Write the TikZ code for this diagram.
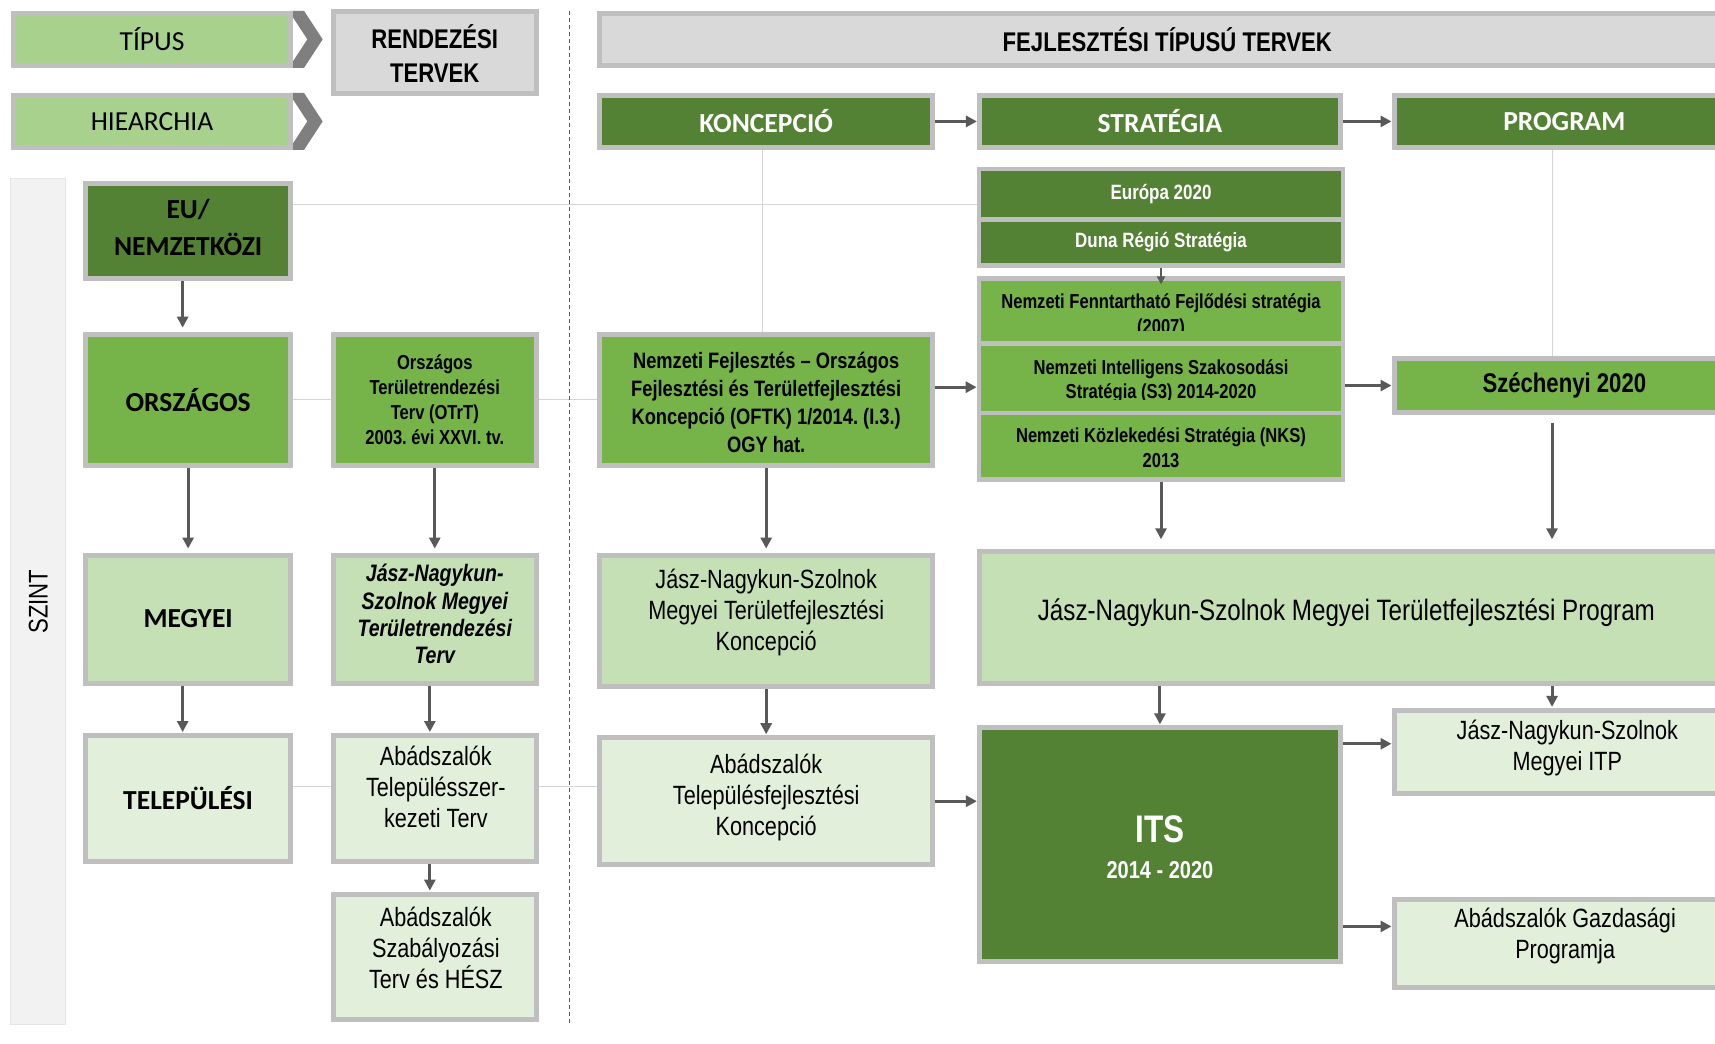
\documentclass[tikz,border=0pt]{standalone}
\usepackage{fontspec}
\setmainfont{Liberation Sans}
\newfontfamily\narrowfont[FakeStretch=0.82]{Liberation Sans}
\newfontfamily\calfont{Carlito}
\usetikzlibrary{arrows.meta}

\definecolor{darkgrn}{RGB}{84,130,53}
\definecolor{midgrn}{RGB}{118,179,72}
\definecolor{lightgrn}{RGB}{197,224,180}
\definecolor{palegrn}{RGB}{226,239,218}
\definecolor{hdrgrn}{RGB}{169,209,142}
\definecolor{rimgray}{RGB}{191,191,191}
\definecolor{hdrgray}{RGB}{217,217,217}
\definecolor{chevgray}{RGB}{127,127,127}
\definecolor{arrgray}{RGB}{89,89,89}
\definecolor{colgray}{RGB}{242,242,242}
\definecolor{gridgray}{RGB}{212,212,212}

\tikzset{
	area/.style args={#1/#2/#3/#4}{at={({(#1+#3)/2},{(#2+#4)/2})}, minimum width={(#3-#1)*1.0938pt}, minimum height={(#4-#2)*1.0938pt}},
	plan/.style={draw=rimgray, line width=5pt, inner sep=0pt},
	stack/.style={plan, line width=4.5pt},
	arr/.style={draw=arrgray, line width=3pt, -{Triangle[length=11pt,width=11pt]}, shorten >=#1},
	arr/.default=4pt,
	arrsmall/.style={draw=arrgray, line width=2pt, -{Triangle[length=8pt,width=8pt]}, shorten >=-8pt},
	guide/.style={draw=gridgray, line width=1pt},
	divider/.style={draw=arrgray, line width=1pt, dash pattern=on 4pt off 3pt},
	calreg/.style={font=\calfont\fontsize{27.5}{33}\selectfont},
	calbold/.style={font=\calfont\bfseries\fontsize{27.5}{37}\selectfont},
	hdrfont/.style={font=\narrowfont\bfseries\fontsize{27}{34}\selectfont, align=center},
	stackhead/.style={font=\narrowfont\bfseries\fontsize{20.7}{24}\selectfont},
	stackfont/.style={font=\narrowfont\bfseries\fontsize{20.2}{24.5}\selectfont, align=center},
	otrtfont/.style={font=\narrowfont\bfseries\fontsize{20.2}{25}\selectfont, align=center},
	oftkfont/.style={font=\narrowfont\bfseries\fontsize{22.3}{28}\selectfont, align=center},
	szfont/.style={font=\narrowfont\bfseries\fontsize{27}{30}\selectfont},
	termfont/.style={font=\narrowfont\bfseries\itshape\fontsize{23.8}{27.3}\selectfont, align=center},
	plainfont/.style={font=\narrowfont\fontsize{26.4}{31}\selectfont, align=center},
	progfont/.style={font=\narrowfont\fontsize{29.5}{34}\selectfont}}
\tikzset{every picture/.style={line width=0.75pt}}

\begin{document}
\frenchspacing
\begin{tikzpicture}[x=1.0938pt,y=1.0938pt,yscale=-1,xscale=1]
	\useasboundingbox (0,0) rectangle (1568,954.5);

	% column and row guides
	\coordinate (ca) at (167,0);
	\coordinate (cb) at (393,0);
	\coordinate (cc) at (697,0);
	\coordinate (cp) at (1419,0);
	\coordinate (ra) at (0,187);
	\coordinate (rb) at (0,354);
	\coordinate (rc) at (0,680);
	\coordinate (rd) at (0,719);
	\coordinate (re) at (0,847);

	%Shape: Rectangle [szint]
	\node[draw=rimgray!40, fill=colgray, line width=1pt, inner sep=0pt, area=10/163/60/937] (szint) {};
	% Text Node
	\node[rotate=90, font=\narrowfont\fontsize{27}{30}\selectfont] (szintlbl) at (szint) {SZINT};

	%Shape: Chevron
	\fill[chevgray] (264,10) -- (278,10) -- (295,36) -- (278,62) -- (264,62) -- (281,36) -- cycle;
	\fill[chevgray] (264,85) -- (278,85) -- (295,111) -- (278,137) -- (264,137) -- (281,111) -- cycle;

	%Shape: Rectangle [header row]
	\node[plan, fill=hdrgrn, calreg, area=12.5/12.5/265.5/59.5] (tipus) {TÍPUS};
	\node[plan, fill=hdrgrn, calreg, area=12.5/87.5/265.5/134.5] (hiearchia) {HIEARCHIA};
	\node[plan, fill=hdrgray, area=304.5/10.5/490.5/85.5] (rendezesi) {};
	\node[plan, fill=hdrgray, hdrfont, area=548.5/12.5/1586/59.5] (fejlesztesi) {FEJLESZTÉSI TÍPUSÚ TERVEK};
	\node[plan, fill=darkgrn, calbold, text=white, area=548.5/87.5/852.5/134.5] (koncepcio) {KONCEPCIÓ};
	\node[plan, fill=darkgrn, calbold, text=white, area=895.5/87.5/1225.5/134.5] (strategia) {STRATÉGIA};
	\node[plan, fill=darkgrn, calbold, text=white, area=1274.5/87.5/1586/134.5] (program) {PROGRAM};

	%Shape: Rectangle [EU row]
	\node[plan, fill=darkgrn, area=78.5/167.5/265.5/254.5] (eu) {};
	\node[stack, fill=darkgrn, text=white, stackhead, area=895/154.5/1228/200.5] (europa) {Európa 2020};
	\node[stack, fill=darkgrn, text=white, stackhead, area=895/200.5/1228/242.75] (duna) {Duna Régió Stratégia};

	%Shape: Rectangle [national row]
	\node[plan, fill=midgrn, calbold, area=78.5/305.5/265.5/425.5] (orszagos) {ORSZÁGOS};
	\node[plan, fill=midgrn, area=304.5/305.5/490.5/425.5] (otrt) {};
	\node[plan, fill=midgrn, area=548.5/305.5/852.5/425.5] (oftk) {};
	\node[stack, fill=midgrn, area=895/254.75/1228/314] (nffs) {};
	\node[stack, fill=midgrn, area=895/314/1228/377.5] (nis) {};
	\node[stack, fill=midgrn, area=895/377.5/1228/438.5] (nks) {};
	\node[plan, fill=midgrn, szfont, area=1274.5/327.5/1586/377.5] (szechenyi) {Széchenyi 2020};

	%Shape: Rectangle [county row]
	\node[plan, fill=lightgrn, calbold, area=78.5/507.5/265.5/624.5] (megyei) {MEGYEI};
	\node[plan, fill=lightgrn, area=304.5/507.5/490.5/624.5] (jnszterv) {};
	\node[plan, fill=lightgrn, area=548.5/507.5/852.5/627.5] (mtk) {};
	\node[plan, fill=lightgrn, area=895.5/504.5/1586/624.5] (mtp) {};

	%Shape: Rectangle [settlement row]
	\node[plan, fill=palegrn, calbold, area=78.5/672.5/265.5/787.5] (telepulesi) {TELEPÜLÉSI};
	\node[plan, fill=palegrn, area=304.5/672.5/490.5/787.5] (tszt) {};
	\node[plan, fill=palegrn, area=548.5/674.5/852.5/790.5] (atk) {};
	\node[plan, fill=darkgrn, area=895.5/665.5/1225.5/879.5] (its) {};
	\node[plan, fill=palegrn, area=1274.5/649.5/1586/725.5] (itp) {};
	\node[plan, fill=palegrn, area=1274.5/822.5/1586/902.5] (gp) {};
	\node[plan, fill=palegrn, area=304.5/817.5/490.5/932.5] (szt) {};

	% Text Node
	\node[hdrfont] (rendezesitext) at (397.5,49) {RENDEZÉSI\\TERVEK};
	% Text Node
	\node[calbold, align=center] (eutext) at (172,208) {EU/\\NEMZETKÖZI};
	% Text Node
	\node[otrtfont] (otrttext) at (397.5,365) {Országos\\Területrendezési\\Terv (OTrT)\\2003. évi XXVI. tv.};
	% Text Node
	\node[oftkfont] (oftktext) at (700.5,367.5) {Nemzeti Fejlesztés – Országos\\Fejlesztési és Területfejlesztési\\Koncepció (OFTK) 1/2014. (I.3.)\\OGY hat.};
	% Text Node [cut by its frame]
	\begin{scope}
		\clip (897.25,257) rectangle (1225.75,302);
		\node[stackfont] (nffstext) at (1061.5,288.5) {Nemzeti Fenntartható Fejlődési stratégia\\(2007)};
	\end{scope}
	% Text Node [cut by its frame]
	\begin{scope}
		\clip (897.25,316) rectangle (1225.75,365);
		\node[stackfont] (nistext) at (1061.5,348.5) {Nemzeti Intelligens Szakosodási\\Stratégia (S3) 2014-2020};
	\end{scope}
	% Text Node
	\node[stackfont] (nkstext) at (1061.5,409.5) {Nemzeti Közlekedési Stratégia (NKS)\\2013};
	% Text Node
	\node[termfont] (jnszterv text) at (397.5,561.5) {Jász-Nagykun-\\Szolnok Megyei\\Területrendezési\\Terv};
	% Text Node
	\node[plainfont] (mtktext) at (700.5,560) {Jász-Nagykun-Szolnok\\Megyei Területfejlesztési\\Koncepció};
	% Text Node
	\node[progfont] (mtptext) at (1231,560) {Jász-Nagykun-Szolnok Megyei Területfejlesztési Program};
	% Text Node
	\node[plainfont] (tszttext) at (398.5,719.5) {Abádszalók\\Településszer-\\kezeti Terv};
	% Text Node
	\node[plainfont] (atktext) at (700.5,729) {Abádszalók\\Településfejlesztési\\Koncepció};
	% Text Node
	\node[font=\narrowfont\bfseries\fontsize{38.4}{40}\selectfont, text=white] (itstitle) at (1060.5,758.5) {ITS};
	% Text Node
	\node[font=\narrowfont\bfseries\fontsize{24.4}{28}\selectfont, text=white] (itsyears) at (1060.5,795.5) {2014 - 2020};
	% Text Node
	\node[plainfont] (itptext) at (1433,684) {Jász-Nagykun-Szolnok\\Megyei ITP};
	% Text Node
	\node[plainfont] (gptext) at (1431,855.5) {Abádszalók Gazdasági\\Programja};
	% Text Node
	\node[plainfont] (szttext) at (398.5,867) {Abádszalók\\Szabályozási\\Terv és HÉSZ};

	%Straight Lines [guides]
	\draw[guide] (eu.east |- ra) -- (europa.west |- ra);
	\draw[guide] (orszagos.east) -- (otrt.west);
	\draw[guide] (otrt.east) -- (oftk.west);
	\draw[guide] (telepulesi.east |- rd) -- (tszt.west |- rd);
	\draw[guide] (tszt.east |- rd) -- (atk.west |- rd);
	\draw[guide] (koncepcio.south -| cc) -- (oftk.north -| cc);
	\draw[guide] (program.south -| cp) -- (szechenyi.north -| cp);
	%Straight Lines [divider]
	\draw[divider] (521,10) -- (521,935);

	%Straight Lines [down]
	\draw[arr] (eu.south -| ca) -- (orszagos.north -| ca);
	\draw[arr] (orszagos.south) -- (megyei.north);
	\draw[arr] (otrt.south) -- (jnszterv.north);
	\draw[arr] (oftk.south) -- (mtk.north);
	\draw[arr=10pt] (nks.south) -- (mtp.north -| nks.south);
	\draw[arr=10pt, shorten <=8pt] (szechenyi.south -| cp) -- (mtp.north -| cp);
	\draw[arr=1pt] (megyei.south -| ca) -- (telepulesi.north -| ca);
	\draw[arr=1pt] (jnszterv.south -| cb) -- (tszt.north -| cb);
	\draw[arr=1pt] (mtk.south) -- (atk.north);
	\draw[arr=1pt] (mtp.south -| its.north) -- (its.north);
	\draw[arr=1pt] (mtp.south -| cp) -- (itp.north -| cp);
	\draw[arr=1pt] (tszt.south -| cb) -- (szt.north -| cb);
	\draw[arrsmall] (duna.south) -- (nffs.north);
	%Straight Lines [across]
	\draw[arr=0pt] (koncepcio) -- (strategia);
	\draw[arr=0pt] (strategia) -- (program);
	\draw[arr=0pt] (oftk.east |- rb) -- (nis.west |- rb);
	\draw[arr=0pt] (nis.east |- szechenyi.west) -- (szechenyi.west);
	\draw[arr=0pt] (atk.east) -- (atk.east -| its.west);
	\draw[arr=0pt] (its.east |- rc) -- (itp.west |- rc);
	\draw[arr=0pt] (its.east |- re) -- (gp.west |- re);
\end{tikzpicture}
\end{document}
